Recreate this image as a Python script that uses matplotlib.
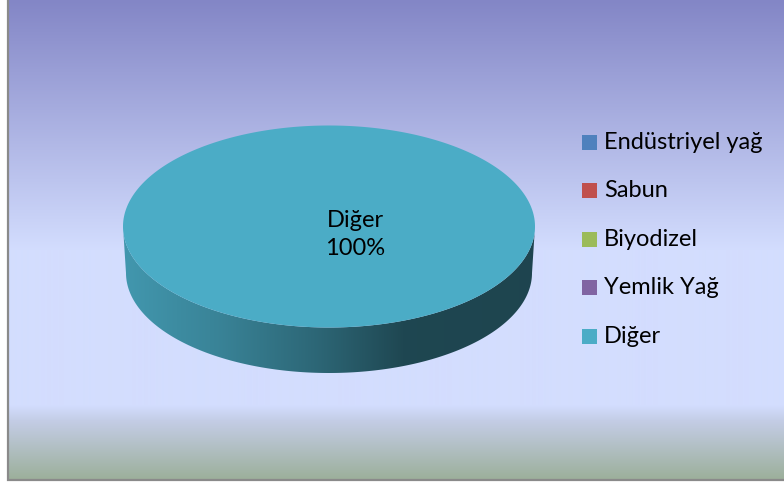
import numpy as np
import matplotlib
matplotlib.use("Agg")
import matplotlib.pyplot as plt
from matplotlib.patches import Polygon, Rectangle
from matplotlib.colors import to_rgb

# Kullanım alanlarına göre dağılım
labels = ["Endüstriyel yağ", "Sabun", "Biyodizel", "Yemlik Yağ", "Diğer"]
values = [0, 0, 0, 0, 100]
colors = ["#4F81BD", "#C0504D", "#9BBB59", "#8064A2", "#4BACC6"]

plt.rcParams["font.family"] = ["Lato", "DejaVu Sans"]

W, H = 784, 484
fig = plt.figure(figsize=(W / 100, H / 100), dpi=100, facecolor="white")
ax = fig.add_axes([0, 0, 1, 1])

# chart area background: purple-blue at top, pale lavender, greenish at the bottom
bg_y = [0, 250, 405, 420, 480]
bg_rgb = np.array([(131, 134, 198), (211, 221, 254), (211, 221, 254),
                   (196, 205, 230), (155, 175, 153)]) / 255.0
ys = np.arange(0, 480)
grad = np.stack([np.interp(ys, bg_y, bg_rgb[:, k]) for k in range(3)], axis=-1)
grad = np.repeat(grad[:, None, :], 2, axis=1)
ax.imshow(grad, extent=(8, W, 480, 0), aspect="auto", zorder=0, interpolation="bilinear")
ax.add_patch(Rectangle((8.5, -5), W + 10, 484.5, fill=False, edgecolor="#8a8a8a", lw=1.6, zorder=1))

# 3D pie geometry (pixel units, y grows downward)
cx, cy, a, b = 329, 226.5, 206, 101
cy2, a2, b2 = 273, 203, 100

def ellipse_pts(t, x0, y0, ra, rb):
    return np.column_stack([x0 + ra * np.sin(t), y0 - rb * np.cos(t)])

# side shading along x, as brightness factors of the slice colour
shade_x = [123, 220, 320, 405, 535]
shade_f = [0.88, 0.76, 0.59, 0.41, 0.40]

fracs = np.array(values, dtype=float) / sum(values)
starts = np.concatenate([[0], np.cumsum(fracs)[:-1]]) * 2 * np.pi
for frac, t0, col, lab in zip(fracs, starts, colors, labels):
    if frac <= 0:
        continue
    t1 = t0 + frac * 2 * np.pi
    base = np.array(to_rgb(col))

    # visible front wall (lower half of the ellipse)
    lo, hi = max(t0, np.pi / 2), min(t1, 3 * np.pi / 2)
    if hi > lo:
        t = np.linspace(lo, hi, 200)
        top_arc = ellipse_pts(t, cx, cy, a, b)
        bot_arc = ellipse_pts(t[::-1], cx, cy2, a2, b2)
        side = Polygon(np.vstack([top_arc, bot_arc]), closed=True,
                       facecolor="none", edgecolor="none")
        ax.add_patch(side)
        xs = np.linspace(cx - a, cx + a, 400)
        f = np.interp(xs, shade_x, shade_f)
        img = np.clip(f[None, :, None] * base[None, None, :], 0, 1)
        im = ax.imshow(img, extent=(cx - a, cx + a, cy2 + b2, cy), aspect="auto",
                       zorder=2, interpolation="bilinear")
        im.set_clip_path(side)

    # top face
    t = np.linspace(t0, t1, 400)
    pts = ellipse_pts(t, cx, cy, a, b)
    if frac < 1:
        pts = np.vstack([[cx, cy], pts])
    ax.add_patch(Polygon(pts, closed=True, facecolor=col, edgecolor="none", zorder=3))

    # data label
    if frac >= 1:
        lx, ly = cx + 26, cy + 8
    else:
        tm = (t0 + t1) / 2
        lx, ly = ellipse_pts(np.array([tm]), cx, cy, 0.6 * a, 0.6 * b)[0]
    ax.text(lx, ly, f"{lab}\n{frac * 100:.0f}%", ha="center", va="center",
            multialignment="center", fontsize=17, linespacing=1.4,
            color="black", zorder=4)

# legend
for i, (lab, col) in enumerate(zip(labels, colors)):
    yc = 142.5 + i * 48.4
    ax.add_patch(Rectangle((582, yc - 7.5), 15, 15, facecolor=col, edgecolor="none", zorder=4))
    ax.text(604, yc, lab, ha="left", va="center", fontsize=17, color="black", zorder=4)

ax.set_xlim(0, W)
ax.set_ylim(H, 0)
ax.set_axis_off()

fig.savefig("out.png", dpi=100, facecolor="white")
